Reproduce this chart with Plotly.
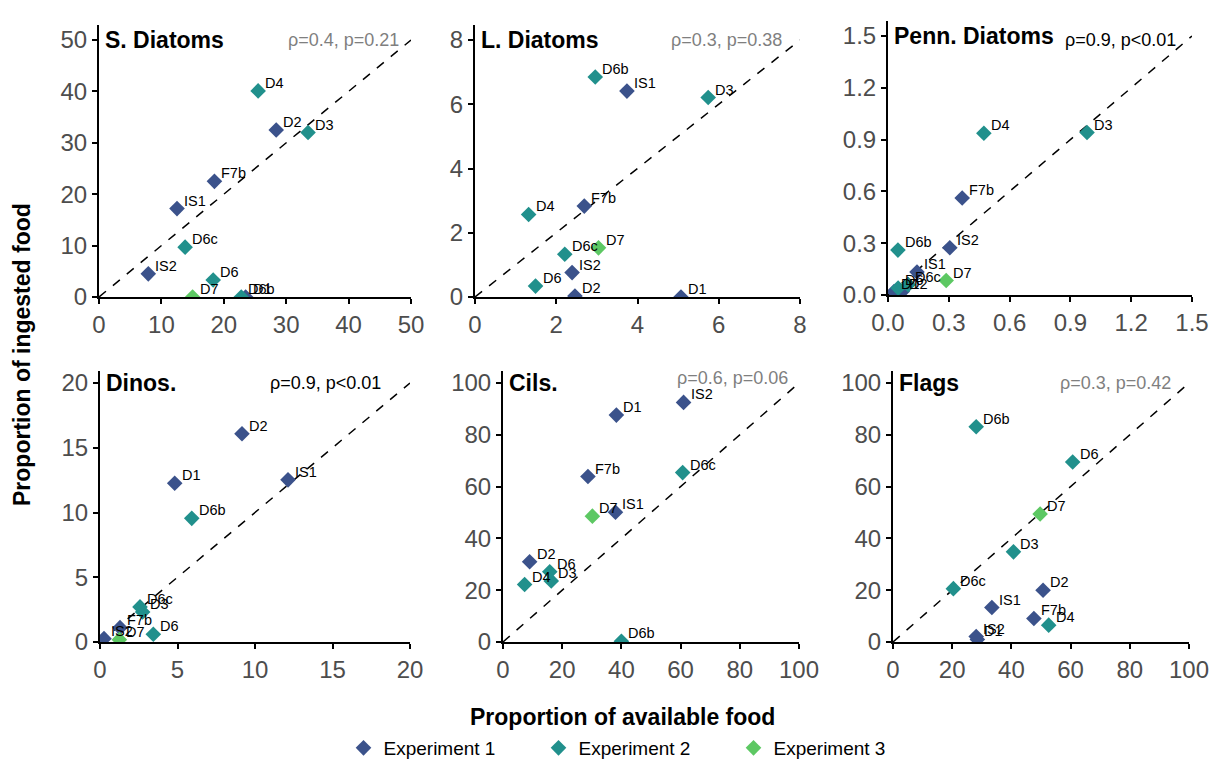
import plotly.graph_objects as go

# ---------------- data ----------------
samples = ["D1", "D2", "F7b", "IS1", "IS2", "D3", "D4", "D6", "D6b", "D6c", "D7"]
experiment = ["Experiment 1", "Experiment 1", "Experiment 1", "Experiment 1", "Experiment 1",
              "Experiment 2", "Experiment 2", "Experiment 2", "Experiment 2", "Experiment 2",
              "Experiment 3"]

s_diatoms_available = [23.5, 28.4, 18.5, 12.5, 7.9, 33.5, 25.5, 18.3, 22.8, 13.8, 15.0]
s_diatoms_ingested = [0.0, 32.5, 22.5, 17.2, 4.5, 32.0, 40.1, 3.3, 0.0, 9.7, 0.0]

l_diatoms_available = [5.07, 2.46, 2.69, 3.74, 2.39, 5.74, 1.32, 1.49, 2.96, 2.21, 3.04]
l_diatoms_ingested = [0.0, 0.03, 2.83, 6.41, 0.76, 6.21, 2.57, 0.34, 6.85, 1.33, 1.53]

penn_diatoms_available = [0.03, 0.07, 0.366, 0.143, 0.305, 0.982, 0.473, 0.05, 0.049, 0.10, 0.287]
penn_diatoms_ingested = [0.02, 0.02, 0.562, 0.133, 0.274, 0.941, 0.937, 0.04, 0.26, 0.06, 0.084]

dinos_available = [4.82, 9.16, 1.29, 12.13, 0.26, 2.75, None, 3.44, 5.92, 2.58, 1.25]
dinos_ingested = [12.26, 16.08, 1.11, 12.52, 0.26, 2.32, None, 0.6, 9.55, 2.71, 0.18]

cils_available = [38.3, 9.0, 28.7, 38.0, 61.0, 16.3, 7.3, 15.8, 40.0, 60.7, 30.2]
cils_ingested = [87.6, 31.0, 63.9, 50.1, 92.5, 23.6, 22.2, 27.1, 0.3, 65.4, 48.6]

flags_available = [28.5, 50.7, 47.6, 33.4, 28.1, 40.7, 52.6, 60.7, 28.1, 20.4, 49.7]
flags_ingested = [1.0, 20.0, 9.1, 13.3, 2.1, 34.8, 6.5, 69.5, 83.1, 20.6, 49.4]

panel_titles = ["S. Diatoms", "L. Diatoms", "Penn. Diatoms", "Dinos.", "Cils.", "Flags"]
panel_stats = ["ρ=0.4, p=0.21", "ρ=0.3, p=0.38", "ρ=0.9, p<0.01",
               "ρ=0.9, p<0.01", "ρ=0.6, p=0.06", "ρ=0.3, p=0.42"]
stat_significant = [False, False, True, True, False, False]

tick_vals = [
    [0, 10, 20, 30, 40, 50],
    [0, 2, 4, 6, 8],
    [0, 0.3, 0.6, 0.9, 1.2, 1.5],
    [0, 5, 10, 15, 20],
    [0, 20, 40, 60, 80, 100],
    [0, 20, 40, 60, 80, 100],
]
tick_text = [
    ["0", "10", "20", "30", "40", "50"],
    ["0", "2", "4", "6", "8"],
    ["0.0", "0.3", "0.6", "0.9", "1.2", "1.5"],
    ["0", "5", "10", "15", "20"],
    ["0", "20", "40", "60", "80", "100"],
    ["0", "20", "40", "60", "80", "100"],
]

panel_data = [
    (s_diatoms_available, s_diatoms_ingested),
    (l_diatoms_available, l_diatoms_ingested),
    (penn_diatoms_available, penn_diatoms_ingested),
    (dinos_available, dinos_ingested),
    (cils_available, cils_ingested),
    (flags_available, flags_ingested),
]

exp_names = ["Experiment 1", "Experiment 2", "Experiment 3"]

# ---------------- layout / style ----------------
PAGE_MARGIN = 8  # default body margin of the html page
W, H = 1217 - PAGE_MARGIN, 762 - PAGE_MARGIN
colors = {"Experiment 1": "#3B528B", "Experiment 2": "#21908C", "Experiment 3": "#5DC863"}
FONT = "Liberation Sans, Arial, sans-serif"

# pixel boxes on screen: left, right, top, bottom ; stat text right edge and centre y
boxes = [
    dict(l=99, r=411, t=25, b=297, stat_r=401, stat_y=40),
    dict(l=475, r=800, t=25, b=297, stat_r=784, stat_y=40),
    dict(l=888, r=1192, t=21, b=295, stat_r=1178, stat_y=40),
    dict(l=100, r=410, t=371, b=642, stat_r=383, stat_y=383),
    dict(l=503, r=799, t=371, b=642, stat_r=790, stat_y=378),
    dict(l=893, r=1189, t=371, b=642, stat_r=1173, stat_y=383),
]
top_tick_px = [40, 40, 36, 383, 383, 383]


def px_x(p):
    return (p - PAGE_MARGIN) / W


def px_y(p):
    return 1 - (p - PAGE_MARGIN) / H


fig = go.Figure()
annotations = []

for i in range(6):
    bx = boxes[i]
    xa = "x" if i == 0 else f"x{i + 1}"
    ya = "y" if i == 0 else f"y{i + 1}"
    xmax = tick_vals[i][-1]
    h = bx["b"] - bx["t"]
    ytop = xmax * h / (bx["b"] - top_tick_px[i])

    # 1:1 line
    fig.add_trace(go.Scatter(x=[0, xmax], y=[0, xmax], mode="lines", xaxis=xa, yaxis=ya,
                             line=dict(color="black", dash="dash", width=1.5),
                             showlegend=False, hoverinfo="skip"))
    xs, ys = panel_data[i]
    for en in exp_names:
        px_, py_ = [], []
        for s, e, xv, yv in zip(samples, experiment, xs, ys):
            if e == en and xv is not None:
                px_.append(xv)
                py_.append(yv)
        fig.add_trace(go.Scatter(x=px_, y=py_, mode="markers", xaxis=xa, yaxis=ya,
                                 marker=dict(symbol="diamond", size=12, color=colors[en]),
                                 name=en, legendgroup=en, showlegend=(i == 0)))
    # labels (upper-right of each point)
    for s, xv, yv in zip(samples, xs, ys):
        if xv is None:
            continue
        annotations.append(dict(text=s, x=xv, y=yv, xref=xa, yref=ya,
                                xanchor="left", yanchor="middle", xshift=5, yshift=8,
                                showarrow=False,
                                font=dict(family=FONT, size=14.5, color="black")))

    axis_common = dict(showline=True, linecolor="black", linewidth=2, ticks="outside",
                       ticklen=5, tickwidth=1.5, tickcolor="black", showgrid=False,
                       zeroline=False, automargin=False,
                       tickfont=dict(family=FONT, size=24, color="#4D4D4D"),
                       tickmode="array", tickvals=tick_vals[i], ticktext=tick_text[i])
    fig.layout[("xaxis" if i == 0 else f"xaxis{i + 1}")] = dict(
        domain=[px_x(bx["l"]), px_x(bx["r"])], range=[0, xmax], anchor=ya, **axis_common)
    fig.layout[("yaxis" if i == 0 else f"yaxis{i + 1}")] = dict(
        domain=[px_y(bx["b"]), px_y(bx["t"])], range=[0, ytop], anchor=xa, **axis_common)

    annotations.append(dict(text=panel_titles[i], xref="paper", yref="paper",
                            x=px_x(bx["l"] + 4), y=px_y(top_tick_px[i]), xanchor="left",
                            yanchor="middle", showarrow=False,
                            font=dict(family=FONT, size=23, color="black", weight="bold")))
    annotations.append(dict(text=panel_stats[i], xref="paper", yref="paper",
                            x=px_x(bx["stat_r"]), y=px_y(bx["stat_y"]), xanchor="right",
                            yanchor="middle", showarrow=False,
                            font=dict(family=FONT, size=18,
                                      color="black" if stat_significant[i] else "#7F7F7F")))

annotations.append(dict(text="Proportion of available food", xref="paper", yref="paper",
                        x=px_x(622), y=px_y(717), xanchor="center", yanchor="middle",
                        showarrow=False,
                        font=dict(family=FONT, size=23, color="black", weight="bold")))
annotations.append(dict(text="Proportion of ingested food", xref="paper", yref="paper",
                        x=px_x(22), y=px_y(355), xanchor="center", yanchor="middle",
                        textangle=-90, showarrow=False,
                        font=dict(family=FONT, size=23, color="black", weight="bold")))

fig.update_layout(
    width=W, height=H, margin=dict(l=0, r=0, t=0, b=0, autoexpand=False),
    paper_bgcolor="white", plot_bgcolor="white",
    annotations=annotations,
    legend=dict(orientation="h", x=px_x(636), xanchor="center", y=px_y(748), yanchor="middle",
                font=dict(family=FONT, size=19, color="black"), itemwidth=30,
                entrywidth=150),
    font=dict(family=FONT),
)

fig.write_html("out.html")
